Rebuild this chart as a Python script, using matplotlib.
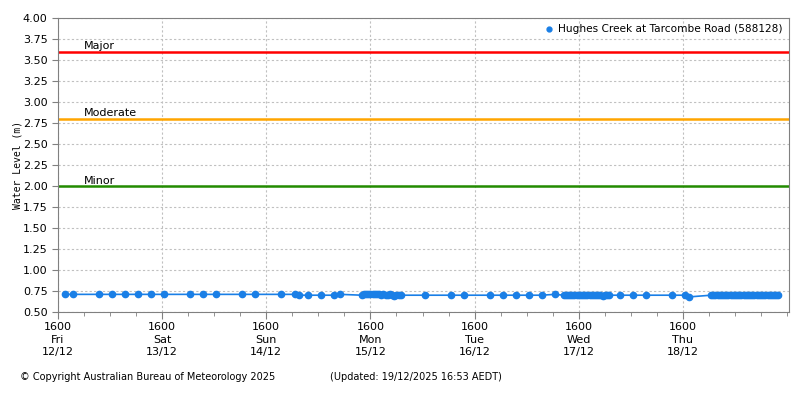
import matplotlib
matplotlib.use("Agg")
import matplotlib.pyplot as plt
from matplotlib.ticker import MultipleLocator

# hours after 1600 Fri 12/12 and water level (m)
hours = [1.5, 3.5, 9.5, 12.5, 15.5, 18.5, 21.5, 24.5, 30.5, 33.5, 36.5, 42.5,
         45.5, 51.5, 54.5, 55.5, 57.5, 60.5, 63.5, 65.0,
         70.0, 70.5, 71.0, 71.5, 72.0, 72.5, 73.0, 73.5, 74.0, 74.5,
         75.0, 75.5, 76.0, 76.5, 77.0, 77.5, 78.0, 78.5, 79.0,
         84.5, 90.5, 93.5, 99.5, 102.5, 105.5, 108.5, 111.5, 114.5,
         116.5, 117.0, 117.5, 118.0, 118.5, 119.0, 119.5, 120.0, 120.5, 121.0,
         121.5, 122.0, 122.5, 123.0, 123.5, 124.0, 124.5, 125.0, 125.5, 126.0,
         126.5, 127.0,
         129.5, 132.5, 135.5, 141.5, 144.5, 145.5,
         150.5, 151.0, 151.5, 152.0, 152.5, 153.0, 153.5, 154.0, 154.5, 155.0,
         155.5, 156.0, 156.5, 157.0, 157.5, 158.0, 158.5, 159.0, 159.5, 160.0,
         160.5, 161.0, 161.5, 162.0, 162.5, 163.0, 163.5, 164.0, 164.5, 165.0,
         165.5, 166.0]
levels = [0.71, 0.71, 0.71, 0.71, 0.71, 0.71, 0.71, 0.71, 0.71, 0.71, 0.71, 0.71,
          0.71, 0.71, 0.71, 0.70, 0.70, 0.70, 0.70, 0.71,
          0.70, 0.71, 0.71, 0.71, 0.71, 0.71, 0.71, 0.71, 0.71, 0.70,
          0.71, 0.70, 0.70, 0.71, 0.70, 0.69, 0.70, 0.70, 0.70,
          0.70, 0.70, 0.70, 0.70, 0.70, 0.70, 0.70, 0.70, 0.71,
          0.70, 0.70, 0.70, 0.70, 0.70, 0.70, 0.70, 0.70, 0.70, 0.70,
          0.70, 0.70, 0.70, 0.70, 0.70, 0.70, 0.70, 0.70, 0.69, 0.70,
          0.70, 0.70,
          0.70, 0.70, 0.70, 0.70, 0.70, 0.68,
          0.70, 0.70, 0.70, 0.70, 0.70, 0.70, 0.70, 0.70, 0.70, 0.70,
          0.70, 0.70, 0.70, 0.70, 0.70, 0.70, 0.70, 0.70, 0.70, 0.70,
          0.70, 0.70, 0.70, 0.70, 0.70, 0.70, 0.70, 0.70, 0.70, 0.70,
          0.70, 0.70]

flood_names = ["Major", "Moderate", "Minor"]
flood_levels = [3.6, 2.8, 2.0]
flood_colors = ["#ff0000", "#ffa500", "#228b00"]

day_labels = ["1600\nFri\n12/12", "1600\nSat\n13/12", "1600\nSun\n14/12",
              "1600\nMon\n15/12", "1600\nTue\n16/12", "1600\nWed\n17/12",
              "1600\nThu\n18/12"]

plt.rcParams["font.family"] = "DejaVu Sans"
fig = plt.figure(figsize=(8, 4), dpi=100)
ax = fig.add_axes([0.0725, 0.22, 0.914, 0.735])

for name, lev, col in zip(flood_names, flood_levels, flood_colors):
    ax.axhline(lev, color=col, linewidth=1.8, zorder=2)
    ax.text(6.0, lev + 0.005, name, fontsize=8, va="bottom", ha="left", zorder=3)

ax.plot(hours, levels, color="#1a7fe6", linewidth=1.2, marker="o",
        markersize=4.5, zorder=4)
ax.plot([], [], color="#1a7fe6", marker="o", markersize=3.5, linestyle="None",
        label="Hughes Creek at Tarcombe Road (588128)")

ax.set_xlim(0, 168.5)
ax.set_ylim(0.5, 4.0)
ax.set_xticks([24 * i for i in range(len(day_labels))])
ax.set_xticklabels(day_labels, fontsize=8, linespacing=1.35)
ax.xaxis.set_minor_locator(MultipleLocator(6))
ax.yaxis.set_major_locator(MultipleLocator(0.25))
ax.yaxis.set_major_formatter(matplotlib.ticker.FormatStrFormatter("%.2f"))
ax.tick_params(axis="y", labelsize=8, length=4, color="#808080")
ax.tick_params(axis="x", which="major", length=5, color="#808080", pad=2)
ax.tick_params(axis="x", which="minor", length=3, color="#808080")
ax.grid(True, which="major", color="#c0c0c0", linestyle=(0, (2, 2)), linewidth=0.8)
ax.set_axisbelow(True)
for sp in ax.spines.values():
    sp.set_color("#808080")

ax.set_ylabel("Water Level (m)", fontsize=7, family="DejaVu Sans Mono", labelpad=0)

ax.legend(loc="upper right", frameon=False, fontsize=7.6, handletextpad=0.6,
          borderaxespad=0.2, handlelength=0.6)

fig.text(0.025, 0.05, "\u00a9 Copyright Australian Bureau of Meteorology 2025", fontsize=7)
fig.text(0.412, 0.05, "(Updated: 19/12/2025 16:53 AEDT)", fontsize=7)

fig.savefig("out.png", dpi=100)
